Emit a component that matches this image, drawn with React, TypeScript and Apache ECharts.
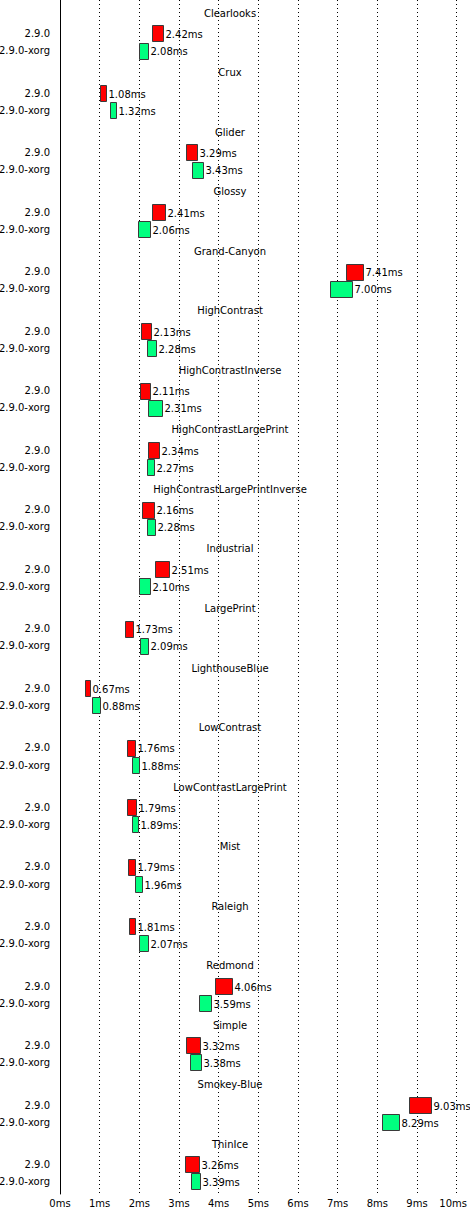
import React, { useEffect, useRef } from "react";
import * as echarts from "echarts";

const themes = [
  "Clearlooks", "Crux", "Glider", "Glossy", "Grand-Canyon", "HighContrast",
  "HighContrastInverse", "HighContrastLargePrint", "HighContrastLargePrintInverse",
  "Industrial", "LargePrint", "LighthouseBlue", "LowContrast", "LowContrastLargePrint",
  "Mist", "Raleigh", "Redmond", "Simple", "Smokey-Blue", "ThinIce",
];
const versions = ["2.9.0", "2.9.0-xorg"];

const v290 = [2.42, 1.08, 3.29, 2.41, 7.41, 2.13, 2.11, 2.34, 2.16, 2.51, 1.73, 0.67, 1.76, 1.79, 1.79, 1.81, 4.06, 3.32, 9.03, 3.26];
const v290Lo = [2.32, 1.01, 3.18, 2.31, 7.22, 2.05, 2.02, 2.22, 2.07, 2.40, 1.65, 0.62, 1.70, 1.70, 1.72, 1.74, 3.92, 3.18, 8.79, 3.15];
const v290Hi = [2.60, 1.16, 3.45, 2.64, 7.64, 2.30, 2.28, 2.50, 2.38, 2.75, 1.85, 0.75, 1.89, 1.92, 1.90, 1.90, 4.33, 3.54, 9.36, 3.51];

const vXorg = [2.08, 1.32, 3.43, 2.06, 7.00, 2.28, 2.31, 2.27, 2.28, 2.10, 2.09, 0.88, 1.88, 1.89, 1.96, 2.07, 3.59, 3.38, 8.29, 3.39];
const vXorgLo = [1.99, 1.26, 3.33, 1.97, 6.80, 2.19, 2.21, 2.20, 2.20, 2.00, 2.01, 0.80, 1.82, 1.82, 1.90, 1.98, 3.50, 3.28, 8.12, 3.30];
const vXorgHi = [2.22, 1.40, 3.60, 2.28, 7.35, 2.43, 2.58, 2.36, 2.39, 2.26, 2.23, 1.02, 2.00, 1.96, 2.07, 2.23, 3.80, 3.55, 8.55, 3.53];

const xMin = 0;
const xMax = 10;
const xStep = 1;

const FONT = '"DejaVu Sans", Verdana, sans-serif';
const TITLE_OFF = 0.223;
const ROW_OFF = [0.566, 0.853];
const BOX_H = 0.277;
const Y_MAX = 20.06;

function boxRenderer(offset: number, color: string) {
  return (params: any, api: any) => {
    const lo = api.value(0);
    const hi = api.value(1);
    const gi = api.value(2);
    const val = api.value(3);
    const y = gi + offset;
    const a = api.coord([lo, y]);
    const b = api.coord([hi, y]);
    const h = api.size([0, BOX_H])[1];
    const x0 = Math.round(a[0]) + 0.5;
    const x1 = Math.round(b[0]) + 0.5;
    const y0 = Math.round(a[1] - h / 2) + 0.5;
    const hh = Math.round(h);
    return {
      type: "group",
      children: [
        {
          type: "rect",
          shape: { x: x0, y: y0, width: x1 - x0, height: hh },
          style: { fill: color, stroke: "#3a3a3a", lineWidth: 1 },
        },
        {
          type: "text",
          x: x1 + 2,
          y: a[1] + 1,
          style: {
            text: val.toFixed(2) + "ms",
            fill: "#000",
            fontSize: 10,
            fontFamily: FONT,
            align: "left",
            verticalAlign: "middle",
          },
        },
      ],
    };
  };
}

function labelRenderer(params: any, api: any) {
  const gi = api.value(1);
  const t = api.coord([0, gi + TITLE_OFF]);
  const r0 = api.coord([0, gi + ROW_OFF[0]]);
  const r1 = api.coord([0, gi + ROW_OFF[1]]);
  const base = { fill: "#000", fontSize: 10, fontFamily: FONT, verticalAlign: "middle" };
  return {
    type: "group",
    children: [
      { type: "text", x: 230, y: t[1], style: { ...base, text: themes[params.dataIndex], align: "center" } },
      { type: "text", x: t[0] - 10, y: r0[1], style: { ...base, text: versions[0], align: "right" } },
      { type: "text", x: t[0] - 10, y: r1[1], style: { ...base, text: versions[1], align: "right" } },
    ],
  };
}

export default function App() {
  const ref = useRef<HTMLDivElement>(null);
  useEffect(() => {
    if (!ref.current) return;
    const chart = echarts.init(ref.current, null, { renderer: "svg" });
    chart.setOption({
      animation: false,
      backgroundColor: "#fff",
      grid: { left: 60, right: 10, top: 0, bottom: 33 },
      xAxis: {
        type: "value",
        min: xMin,
        max: xMax,
        interval: xStep,
        axisLine: { show: false },
        axisTick: { show: false },
        axisLabel: {
          color: "#000",
          fontSize: 10,
          fontFamily: FONT,
          margin: 4,
          formatter: (v: number) => (v === xMax ? "{last|" + v + "ms}" : v + "ms"),
          rich: { last: { fontSize: 10, fontFamily: FONT, color: "#000", padding: [0, 7, 0, 0] } },
        },
        splitLine: { show: true, lineStyle: { color: "#000", width: 1, type: [1, 3] } },
      },
      yAxis: {
        type: "value",
        min: 0,
        max: Y_MAX,
        inverse: true,
        axisLine: { show: true, onZero: false, lineStyle: { color: "#000", width: 1 } },
        axisTick: { show: false },
        axisLabel: { show: false },
        splitLine: { show: false },
      },
      series: [
        {
          type: "custom",
          renderItem: labelRenderer,
          data: themes.map((_, i) => [0, i]),
          silent: true,
        },
        {
          type: "custom",
          renderItem: boxRenderer(ROW_OFF[0], "#ff0000"),
          data: themes.map((_, i) => [v290Lo[i], v290Hi[i], i, v290[i]]),
          silent: true,
        },
        {
          type: "custom",
          renderItem: boxRenderer(ROW_OFF[1], "#00ff7f"),
          data: themes.map((_, i) => [vXorgLo[i], vXorgHi[i], i, vXorg[i]]),
          silent: true,
        },
      ],
    });
    return () => chart.dispose();
  }, []);
  return (
    <div
      ref={ref}
      style={{ position: "absolute", left: 0, top: 0, width: 470, height: 1227 }}
    />
  );
}
